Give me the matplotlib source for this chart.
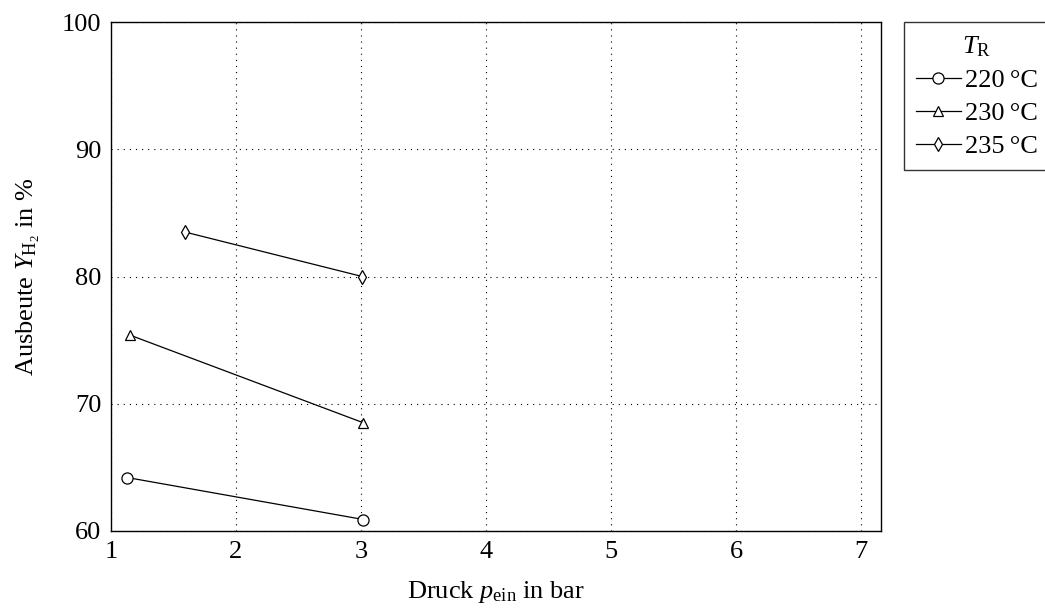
import matplotlib
matplotlib.use('Agg')
import matplotlib.pyplot as plt

# Data
p_220 = [1.13, 3.02]
y_220 = [64.2, 60.9]
p_230 = [1.15, 3.02]
y_230 = [75.4, 68.5]
p_235 = [1.59, 3.01]
y_235 = [83.5, 80.0]

x_ticks = [1, 2, 3, 4, 5, 6, 7]
y_ticks = [60, 70, 80, 90, 100]

plt.rcParams['font.family'] = ['Liberation Serif', 'DejaVu Serif']
plt.rcParams['mathtext.fontset'] = 'custom'
plt.rcParams['mathtext.rm'] = 'Liberation Serif'
plt.rcParams['mathtext.it'] = 'Liberation Serif:italic'
plt.rcParams['mathtext.bf'] = 'Liberation Serif:bold'

fig = plt.figure(figsize=(10.45, 6.12), dpi=100)
ax = fig.add_axes([0.1062, 0.1324, 0.7368, 0.8316])

line_kw = dict(color='black', linewidth=0.9, markerfacecolor='white',
               markeredgecolor='black', markeredgewidth=0.9)
ax.plot(p_220, y_220, marker='o', markersize=8, label='220\u2009°C', **line_kw)
ax.plot(p_230, y_230, marker='^', markersize=6.5, label='230\u2009°C', **line_kw)
ax.plot(p_235, y_235, marker='d', markersize=7.5, label='235\u2009°C', **line_kw)

ax.set_xlim(1, 7.16)
ax.set_ylim(60, 100)
ax.set_xticks(x_ticks)
ax.set_yticks(y_ticks)
ax.tick_params(length=0, labelsize=19, pad=7)
ax.grid(True, color='black', linestyle=(0, (1, 4.5)), linewidth=0.8)
for s in ax.spines.values():
    s.set_linewidth(1.0)

ax.set_xlabel(r'Druck $p_{\mathrm{ein}}$ in bar', fontsize=19, labelpad=12)
ax.set_ylabel(r'Ausbeute $Y_{\mathrm{H}_2}$ in %', fontsize=19, labelpad=14)

leg = ax.legend(title=r'$T_{\mathrm{R}}$', loc='upper left',
                bbox_to_anchor=(1.03, 1.0), fontsize=19, title_fontsize=19,
                frameon=True, fancybox=False, edgecolor='black',
                handlelength=1.7, handletextpad=0.15, borderpad=0.45,
                labelspacing=0.37, borderaxespad=0)
leg.get_frame().set_linewidth(1.0)

fig.savefig('out.png', dpi=100)
